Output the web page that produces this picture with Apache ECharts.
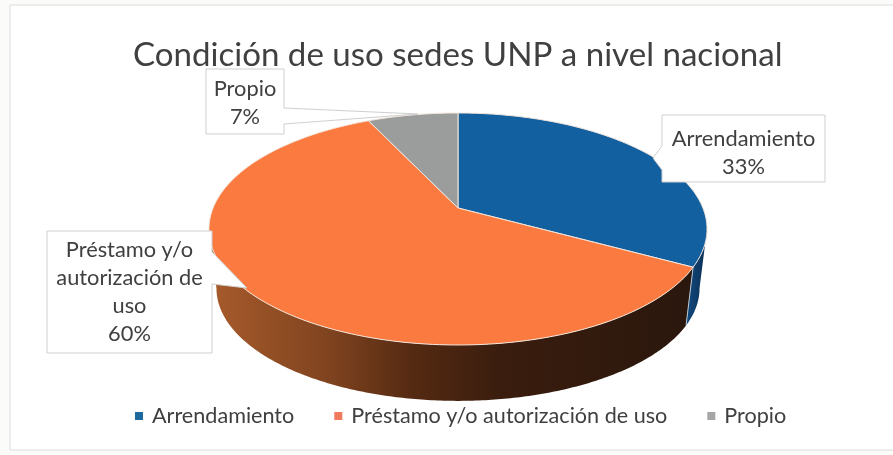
<!DOCTYPE html>
<html>
<head>
<meta charset="utf-8">
<script src="https://cdn.jsdelivr.net/npm/echarts@6/dist/echarts.min.js"></script>
<style>
html, body { margin: 0; padding: 0; background: #fbfbfa; }
#chart { width: 893px; height: 455px; }
</style>
</head>
<body>
<div id="chart"></div>
<script>
const titleText = "Condición de uso sedes UNP a nivel nacional";
const categories = ["Arrendamiento", "Préstamo y/o autorización de uso", "Propio"];
const values = [33, 60, 7];
const labelLines = [["Arrendamiento"], ["Préstamo y/o", "autorización de", "uso"], ["Propio"]];

const fontName = "Lato";
const textColor = "#404040";
const topColors = ["#12609f", "#fb7a3f", "#9b9d9d"];
const legendColors = ["#1d6a9f", "#ef7a5c", "#a5a5a5"];

// disco 3D: perspectiva simple sobre el centro del pie
const disc = { x: 458, y: 208, a: 244.9, b: 112.2, p: 0.181, depth: 60, shrink: 0.97 };
const total = values.reduce((s, v) => s + v, 0);

// la cara lateral solo se ve delante de las tangentes
const frontStart = Math.acos(-disc.p);
const frontEnd = 2 * Math.PI - frontStart;

function sliceAngles(i) {
  let sum = 0;
  for (let k = 0; k < i; k++) sum += values[k];
  return [(sum / total) * 2 * Math.PI, ((sum + values[i]) / total) * 2 * Math.PI];
}

function topPoint(t) {
  const w = 1 + disc.p * Math.cos(t);
  return [disc.x + (disc.a * Math.sin(t)) / w, disc.y - (disc.b * Math.cos(t)) / w];
}

function lowPoint(t) {
  const w = 1 + disc.p * Math.cos(t);
  return [
    disc.x + (disc.shrink * disc.a * Math.sin(t)) / w,
    disc.y - (disc.shrink * disc.b * Math.cos(t)) / w + disc.depth,
  ];
}

function arc(fn, from, to) {
  const pts = [];
  const n = Math.max(2, Math.ceil(Math.abs(to - from) * 90));
  for (let i = 0; i <= n; i++) pts.push(fn(from + ((to - from) * i) / n));
  return pts;
}

const sideFills = [
  new echarts.graphic.LinearGradient(0, 0, 1, 0, [
    { offset: 0, color: "#124a80" },
    { offset: 1, color: "#0b2f52" },
  ]),
  new echarts.graphic.LinearGradient(0, 0, 1, 0, [
    { offset: 0, color: "#a85b2b" },
    { offset: 0.25, color: "#7f431f" },
    { offset: 0.42, color: "#552a12" },
    { offset: 0.6, color: "#3a1d0e" },
    { offset: 1, color: "#2a170d" },
  ]),
  "#6f7070",
];

function renderSlice(i) {
  const [start, end] = sliceAngles(i);
  const children = [];
  const from = Math.max(start, frontStart);
  const to = Math.min(end, frontEnd);
  if (to > from) {
    children.push({
      type: "polygon",
      shape: { points: arc(topPoint, from, to).concat(arc(lowPoint, to, from)) },
      style: { fill: sideFills[i], stroke: null },
    });
    if (i === 1) {
      // borde claro entre lateral azul y marron
      children.push({
        type: "line",
        shape: {
          x1: topPoint(from)[0], y1: topPoint(from)[1],
          x2: lowPoint(from)[0], y2: lowPoint(from)[1],
        },
        style: { stroke: "#b9c6d2", lineWidth: 1 },
      });
    }
  }
  children.push({
    type: "polygon",
    shape: { points: [[disc.x, disc.y]].concat(arc(topPoint, start, end)) },
    style: { fill: topColors[i], stroke: "#f4e6dc", lineWidth: 1 },
  });
  return { type: "group", children };
}

// cajas de etiqueta con su puntero
const labelBoxes = [
  { box: [662, 115, 825, 182], side: "left", tip: [[662, 146], [653, 158], [662, 170]], textY: 153 },
  { box: [47, 231, 212, 353], side: "right", tip: [[212, 252], [247, 288], [212, 284]], textY: 292 },
  { box: [206, 69, 284, 134], side: "right", tip: [[284, 108], [418, 114], [284, 124]], textY: 103 },
];

function renderLabel(i) {
  const { box, side, tip, textY } = labelBoxes[i];
  const [x0, y0, x1, y1] = box;
  const pts =
    side === "left"
      ? [[x0, y0], [x1, y0], [x1, y1], [x0, y1]].concat(tip.slice().reverse())
      : [[x0, y0], [x1, y0]].concat(tip, [[x1, y1], [x0, y1]]);
  return {
    type: "group",
    children: [
      {
        type: "polygon",
        shape: { points: pts },
        style: { fill: "#ffffff", stroke: "#cfcfcf", lineWidth: 1 },
      },
      {
        type: "text",
        style: {
          x: (x0 + x1) / 2,
          y: textY,
          text: labelLines[i].concat([values[i] + "%"]).join("\n"),
          font: "21.8px " + fontName,
          fill: textColor,
          align: "center",
          verticalAlign: "middle",
          lineHeight: 28,
        },
      },
    ],
  };
}

const chart = echarts.init(document.getElementById("chart"));

const option = {
  animation: false,
  backgroundColor: "#fbfbfa",
  title: {
    text: titleText,
    left: 133,
    top: 39,
    padding: 0,
    textStyle: { fontFamily: fontName, fontSize: 33.1, fontWeight: "normal", color: textColor },
  },
  legend: {
    data: categories,
    left: 135,
    top: 405,
    padding: 0,
    icon: "rect",
    itemWidth: 8,
    itemHeight: 8,
    itemGap: 40,
    selectedMode: false,
    textStyle: { fontFamily: fontName, fontSize: 21.6, color: textColor, padding: [0, 0, 0, 4] },
  },
  graphic: [
    {
      type: "rect",
      silent: true,
      z: -10,
      shape: { x: 10, y: 5, width: 890, height: 445 },
      style: { fill: "#ffffff", stroke: "#dcdcdc", lineWidth: 1 },
    },
  ],
  series: categories
    .map((name, i) => ({
      name,
      type: "custom",
      coordinateSystem: "none",
      silent: true,
      itemStyle: { color: legendColors[i] },
      data: [[values[i]]],
      renderItem: () => renderSlice(i),
    }))
    .concat([
      {
        name: "etiquetas",
        type: "custom",
        coordinateSystem: "none",
        silent: true,
        z: 5,
        data: values.map((v) => [v]),
        renderItem: (params) => renderLabel(params.dataIndex),
      },
    ]),
};

chart.setOption(option);
</script>
</body>
</html>
